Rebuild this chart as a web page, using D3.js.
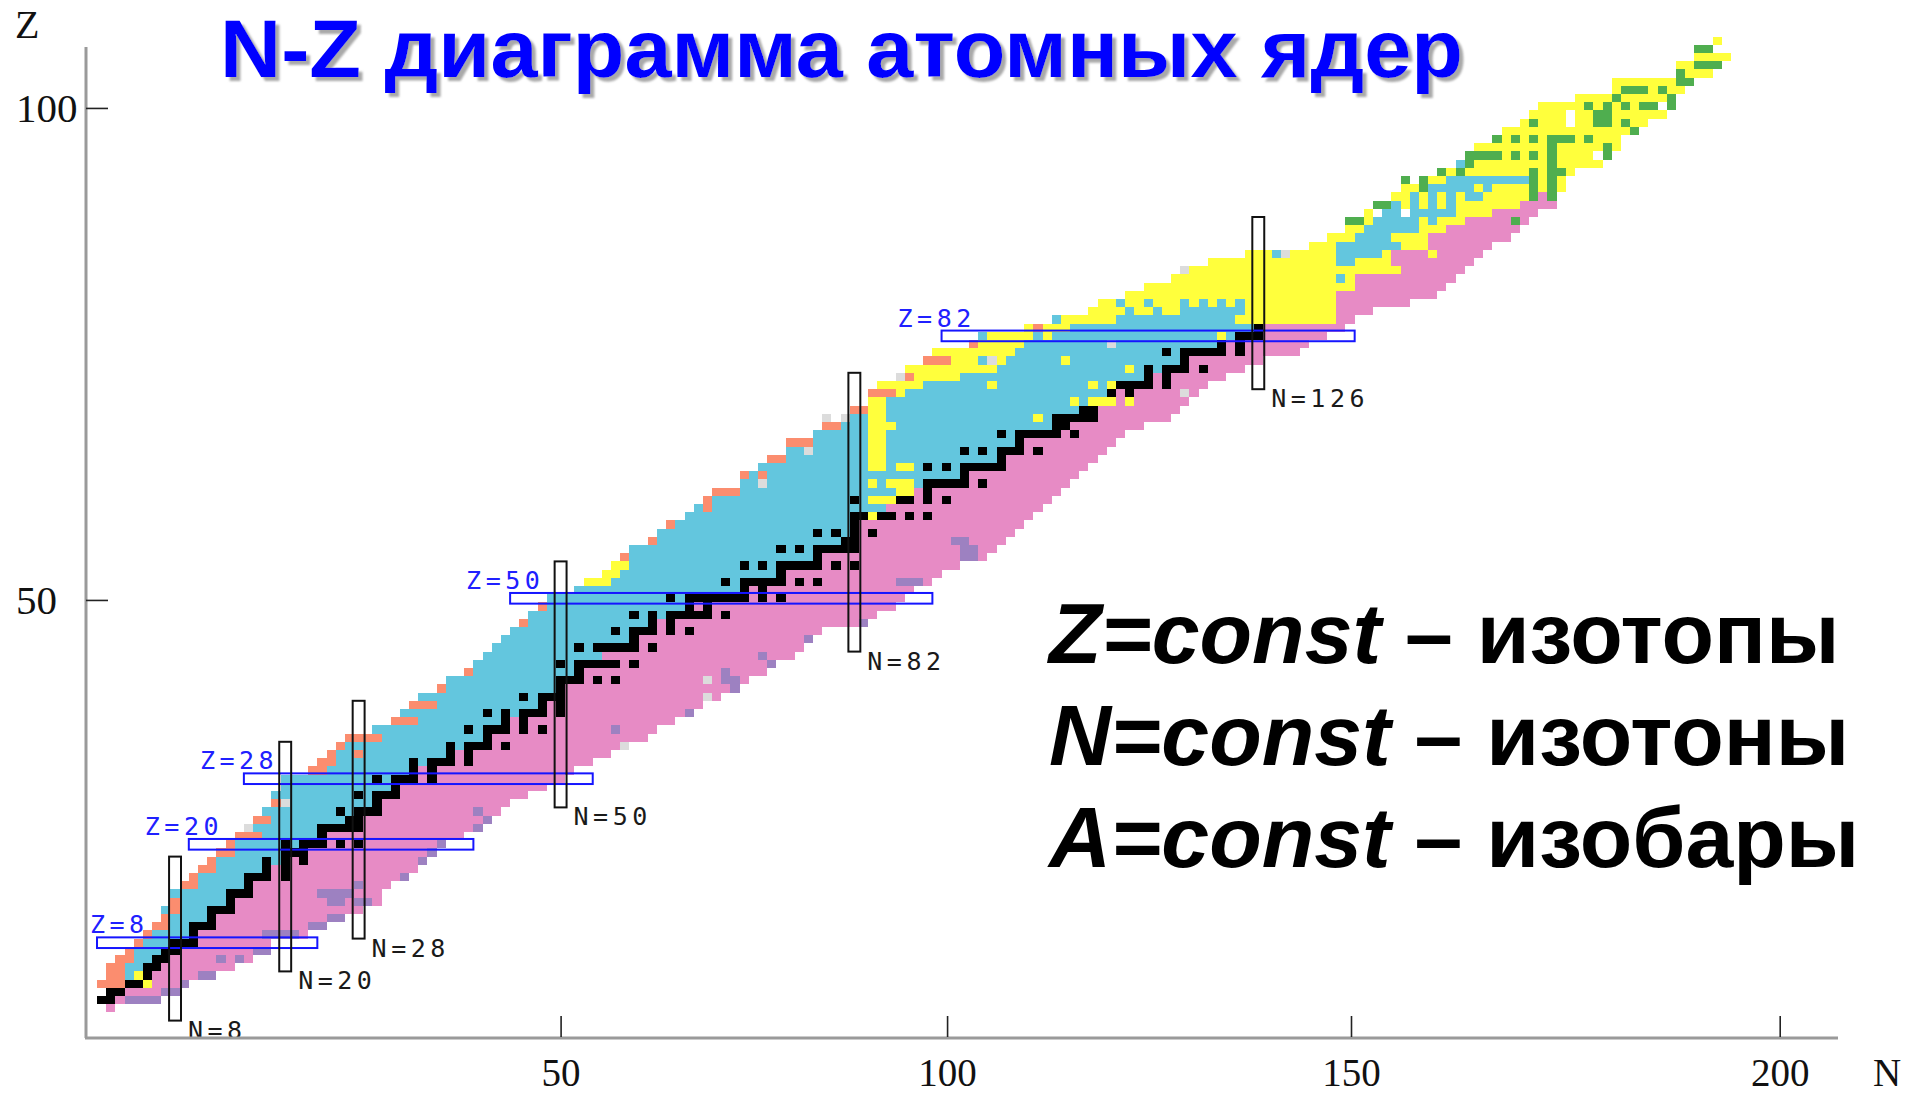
<!DOCTYPE html>
<html>
<head>
<meta charset="utf-8">
<script src="https://cdn.jsdelivr.net/npm/d3@7"></script>
<style>
  body { margin: 0; background: #fff; }
  svg { display: block; }
</style>
</head>
<body>
<svg id="chart" width="1909" height="1097"></svg>
<script>
// ---- data (index = Z, proton number) ----
// first and last known N for every Z
const nFirst = [
  1, 0, 1, 0, 1, 1, 2, 3, 4, 5,
  6, 7, 7, 8, 8, 9, 10, 11, 12, 13,
  14, 15, 16, 17, 18, 19, 19, 20, 20, 23,
  24, 25, 26, 27, 30, 32, 33, 34, 35, 37,
  38, 40, 41, 42, 43, 44, 45, 46, 47, 48,
  49, 52, 53, 55, 56, 57, 58, 60, 61, 62,
  64, 65, 66, 67, 70, 70, 72, 73, 75, 76,
  78, 79, 81, 82, 84, 84, 85, 87, 88, 90,
  91, 95, 96, 101, 104, 108, 109, 112, 114, 117,
  119, 121, 125, 132, 134, 136, 137, 138, 139, 141,
  142, 144, 147, 149, 149, 150, 152, 153, 155, 156,
  157, 161, 165, 165, 172, 172, 174, 174, 176
];
const nLast = [
  1, 6, 8, 9, 12, 14, 16, 17, 18, 22,
  24, 26, 28, 30, 30, 31, 33, 34, 35, 36,
  37, 39, 41, 42, 43, 44, 46, 48, 50, 51,
  53, 55, 57, 59, 60, 62, 64, 65, 67, 69,
  70, 72, 73, 75, 76, 77, 78, 83, 84, 86,
  87, 88, 90, 91, 93, 96, 97, 98, 99, 100,
  101, 102, 103, 104, 105, 106, 107, 108, 109, 110,
  111, 113, 116, 117, 118, 119, 120, 122, 124, 126,
  130, 131, 133, 135, 136, 138, 142, 145, 146, 147,
  148, 149, 150, 151, 153, 154, 155, 156, 158, 158,
  159, 159, 160, 163, 164, 165, 165, 167, 168, 170,
  171, 171, 172, 173, 175, 176, 177, 175, 176
];
// last N of the alpha (yellow) run on the proton-rich side
const alphaEnd = [
  0, -1, 0, -1, 0, 0, 1, 2, 3, 4,
  5, 6, 6, 7, 7, 8, 9, 10, 11, 12,
  13, 14, 15, 16, 17, 18, 18, 19, 19, 22,
  23, 24, 25, 26, 29, 31, 32, 33, 34, 36,
  37, 39, 40, 41, 42, 43, 44, 45, 46, 47,
  48, 51, 55, 56, 57, 56, 57, 59, 60, 61,
  63, 64, 65, 66, 69, 69, 71, 72, 74, 75,
  77, 78, 80, 85, 85, 87, 89, 93, 97, 98,
  99, 100, 101, 105, 110, 117, 134, 134, 136, 136,
  140, 134, 134, 134, 136, 137, 138, 139, 140, 141,
  144, 146, 160, 163, 164, 165, 165, 167, 168, 170,
  171, 171, 172, 173, 175, 176, 177, 175, 176
];
// last N of the beta+/EC (blue) run
const blueEnd = [
  0, 1, 2, 4, 5, 6, 7, 8, 10, 10,
  12, 12, 14, 14, 16, 16, 18, 18, 20, 22,
  24, 24, 28, 28, 30, 30, 32, 32, 34, 34,
  38, 38, 42, 42, 44, 44, 48, 48, 50, 50,
  52, 52, 56, 54, 58, 58, 60, 60, 66, 64,
  70, 70, 74, 74, 78, 78, 82, 82, 82, 82,
  86, 85, 88, 88, 94, 94, 98, 98, 100, 100,
  104, 105, 108, 108, 110, 110, 114, 114, 118, 118,
  122, 122, 126, 126, 123, 124, 134, 134, 136, 136,
  140, 136, 139, 141, 141, 143, 145, 147, 148, 150,
  152, 155, 160, 163, 164, 165, 165, 167, 168, 170,
  171, 171, 172, 173, 175, 176, 177, 175, 176
];
// first N of the beta- (pink) run
const pinkStart = [
  1, 2, 3, 5, 6, 7, 8, 9, 11, 11,
  13, 13, 15, 15, 17, 17, 19, 19, 21, 23,
  25, 25, 29, 29, 31, 31, 33, 33, 35, 35,
  39, 39, 43, 43, 45, 45, 49, 49, 51, 51,
  53, 53, 57, 55, 59, 59, 61, 61, 67, 65,
  71, 71, 75, 75, 79, 79, 83, 83, 83, 83,
  87, 86, 89, 89, 95, 95, 99, 99, 101, 101,
  105, 106, 109, 109, 111, 111, 115, 115, 119, 119,
  123, 123, 127, 127, 135, 135, 135, 135, 137, 137,
  141, 141, 141, 145, 145, 147, 149, 152, 155, 156,
  160, 160, 161, 164, 165, 166, 166, 168, 169, 171,
  172, 172, 173, 174, 176, 177, 178, 176, 177
];
// stable nuclides: N values per Z
const stableN = [
  [], [0, 1], [1, 2], [3, 4], [5], [5, 6], [6, 7], [7, 8], [8, 9, 10], [10],
  [10, 11, 12], [12], [12, 13, 14], [14], [14, 15, 16], [16], [16, 17, 18, 20], [18, 20], [18, 20, 22], [20, 21, 22],
  [20, 22, 23, 24, 26, 28], [24], [24, 25, 26, 27, 28], [27, 28], [26, 28, 29, 30], [30], [28, 30, 31, 32], [32], [30, 32, 33, 34, 36], [34, 36],
  [34, 36, 37, 38, 40], [38, 40], [38, 40, 41, 42, 44], [42], [40, 42, 43, 44, 46, 48], [44, 46], [42, 44, 46, 47, 48, 50], [48, 50], [46, 48, 49, 50], [50],
  [50, 51, 52, 54, 56], [52], [50, 52, 53, 54, 55, 56, 58], [], [52, 54, 55, 56, 57, 58, 60], [58], [56, 58, 59, 60, 62, 64], [60, 62], [58, 60, 62, 63, 64, 65, 66, 68], [64, 66],
  [62, 64, 65, 66, 67, 68, 69, 70, 72, 74], [70, 72], [68, 70, 71, 72, 73, 74, 76, 78], [74], [70, 72, 74, 75, 76, 77, 78, 80, 82], [78], [74, 76, 78, 79, 80, 81, 82], [81, 82], [78, 80, 82, 84], [82],
  [82, 83, 84, 85, 86, 88, 90], [], [82, 85, 86, 87, 88, 90, 92], [88, 90], [88, 90, 91, 92, 93, 94, 96], [94], [90, 92, 94, 95, 96, 97, 98], [98], [94, 96, 98, 99, 100, 102], [100],
  [98, 100, 101, 102, 103, 104, 106], [104, 105], [102, 104, 105, 106, 107, 108], [107, 108], [106, 108, 109, 110, 112], [110, 112], [108, 110, 111, 112, 113, 114, 116], [114, 116], [112, 114, 116, 117, 118, 120], [118],
  [116, 118, 119, 120, 121, 122, 124], [122, 124], [124, 125, 126], [126]
];
// single cells [N, Z]
const protonCells = [
  [0, 3], [1, 3], [2, 3], [1, 4], [2, 4], [1, 5], [2, 5], [2, 6], [3, 6], [3, 7], [4, 8], [5, 9], [6, 10], [7, 10],
  [7, 11], [8, 12], [8, 13], [9, 15], [10, 15], [10, 16], [11, 17], [12, 17], [12, 18], [13, 19], [14, 19], [14, 20],
  [15, 21], [16, 21], [17, 21], [17, 23], [18, 23], [19, 25], [23, 29], [24, 29], [24, 30], [25, 30], [25, 31], [28, 31],
  [26, 32], [27, 33], [28, 33], [29, 33], [30, 33], [32, 35], [33, 35], [34, 35], [34, 37], [35, 37], [36, 37], [37, 39],
  [40, 41], [46, 47], [48, 49], [57, 55], [60, 57], [62, 59], [66, 61], [66, 62], [67, 63], [68, 63], [69, 63], [70, 65],
  [72, 65], [73, 67], [74, 67], [75, 69], [76, 69], [77, 69], [79, 71], [80, 71], [82, 73], [83, 73], [84, 75], [85, 75],
  [86, 75], [87, 77], [88, 77], [90, 79], [91, 79], [92, 79], [95, 81], [102, 83]
];
const neutronCells = [
  [3, 1], [4, 1], [5, 1], [6, 1], [7, 2], [8, 2], [9, 3], [11, 4], [12, 4], [13, 6], [15, 6], [17, 7], [18, 7],
  [18, 9], [19, 9], [20, 9], [21, 9], [23, 10], [24, 10], [25, 11], [26, 11], [25, 13], [26, 13], [28, 13], [29, 13],
  [24, 14], [25, 14], [26, 14], [27, 14], [28, 15], [33, 16], [35, 18], [36, 19], [37, 20], [41, 22], [42, 23], [41, 24],
  [56, 34], [64, 36], [69, 39], [68, 40], [69, 40], [68, 41], [73, 42], [72, 43], [77, 45], [83, 47], [87, 52], [88, 52],
  [89, 52], [94, 55], [95, 55], [94, 56], [95, 56], [93, 57], [94, 57]
];
const unknownCells = [
  [16, 22], [20, 25], [57, 32], [66, 38], [66, 40], [72, 64], [77, 68], [79, 72], [81, 72], [118, 75], [87, 77],
  [97, 79], [110, 81], [118, 90], [129, 92]
];
const emptyCells = [[106, 85], [139, 97], [142, 97], [160, 108], [160, 109], [170, 110], [163, 104]];
const alphaCells = [
  [4, 4], [5, 3], [84, 60], [84, 62], [85, 62], [86, 62], [87, 63], [88, 63], [84, 64], [86, 64], [87, 64], [88, 64],
  [84, 66], [85, 66], [87, 66], [88, 66], [84, 67], [85, 67], [84, 68], [85, 68], [84, 69], [85, 69], [84, 70], [85, 70],
  [84, 71], [85, 71], [86, 71], [84, 72], [85, 72], [102, 72], [84, 73], [85, 73], [106, 74], [108, 74], [109, 74],
  [110, 74], [112, 74], [97, 76], [108, 76], [110, 76], [112, 78], [105, 79], [103, 82], [122, 82],
  [141, 90], [145, 92], [141, 94], [138, 96], [144, 96], [142, 98], [144, 98], [146, 98], [148, 98],
  [142, 99], [144, 99], [146, 99], [148, 99], [150, 100], [152, 100]
];
const ecCells = [
  [96, 79], [96, 82], [104, 84], [112, 85], [115, 85], [111, 86], [114, 86], [118, 86], [120, 86], [122, 86],
  [124, 86], [135, 89], [128, 92], [148, 103]
];
const fissionCells = [
  [136, 96], [137, 96], [154, 96], [139, 98], [140, 98], [156, 99], [158, 99], [144, 100], [156, 100], [158, 100],
  [142, 101], [144, 101], [156, 101], [158, 101], [146, 102], [148, 102], [156, 102], [158, 102], [159, 102],
  [149, 103], [158, 103], [149, 104], [150, 104], [151, 104], [152, 104], [154, 104], [156, 104], [158, 104], [164, 104],
  [158, 105], [164, 105], [152, 106], [154, 106], [156, 106], [158, 106], [159, 106], [160, 106], [162, 106],
  [167, 107], [156, 108], [163, 108], [164, 108], [166, 108], [163, 109], [164, 109], [162, 110], [164, 110], [166, 110],
  [168, 110], [169, 110], [171, 110], [165, 111], [171, 111], [166, 112], [167, 112], [168, 112], [170, 112],
  [172, 113], [173, 113], [172, 114], [174, 115], [175, 115], [176, 115], [174, 117], [175, 117]
];
// magic-number boxes
const magicZ = [8, 20, 28, 50, 82];
const magicZFrom = [0, 10, 16, 45, 92];
const magicZTo = [23, 40, 53, 90, 136];
const magicN = [8, 20, 28, 50, 82, 126];
const magicNFrom = [-1, 5, 9, 25, 44, 76];
const magicNTo = [18, 32, 37, 54, 77, 96];
// axis ticks as they sit on the grid, and their printed labels
const xTickAt = [50, 92.1, 136.1, 182.8];
const xTickText = ["50", "100", "150", "200"];
const yTickAt = [49.8, 109.8];
const yTickText = ["50", "100"];

const textLines = [
  ["Z=const", " \u2013 изотопы"],
  ["N=const", " \u2013 изотоны"],
  ["A=const", " \u2013 изобары"]
];

// ---- drawing ----
const C = {
  blue: "#63c6de", pink: "#e78bc5", yellow: "#ffff3c", black: "#000000",
  orange: "#fb8d6f", purple: "#9d81c1", gray: "#dcdcdc", green: "#4fae4f", white: "#ffffff"
};

const svg = d3.select("#chart");
const xCell = d3.scaleLinear().domain([0, 100]).range([101.6, 1019.6]);
const yCell = d3.scaleLinear().domain([0, 100]).range([1008.3, 188.3]);

const defs = svg.append("defs");
defs.append("filter").attr("id", "shadow")
  .attr("x", "-5%").attr("y", "-20%").attr("width", "110%").attr("height", "140%")
  .append("feDropShadow")
  .attr("dx", 4).attr("dy", 4).attr("stdDeviation", 0.8)
  .attr("flood-color", "#9a9a9a").attr("flood-opacity", 0.85);

const zValues = d3.range(nFirst.length);
const segments = [];
zValues.forEach(z => {
  const f = nFirst[z], l = nLast[z], p = pinkStart[z], a = alphaEnd[z], b = blueEnd[z];
  segments.push({ z, from: f, to: Math.min(a, p - 1, l), color: C.yellow });
  segments.push({ z, from: a + 1, to: Math.min(b, p - 1, l), color: C.blue });
  segments.push({ z, from: b + 1, to: Math.min(p - 1, l), color: C.yellow });
  segments.push({ z, from: Math.max(p, f), to: l, color: C.pink });
});

const cells = svg.append("g").attr("shape-rendering", "crispEdges");

cells.selectAll("rect.seg")
  .data(segments.filter(s => s.from <= s.to))
  .join("rect")
  .attr("class", "seg")
  .attr("x", d => xCell(d.from - 0.5))
  .attr("width", d => xCell(d.to + 0.5) - xCell(d.from - 0.5))
  .attr("y", d => yCell(d.z + 0.5))
  .attr("height", d => yCell(d.z - 0.5) - yCell(d.z + 0.5))
  .attr("fill", d => d.color);

function drawCells(list, color, cls) {
  cells.selectAll("rect." + cls)
    .data(list)
    .join("rect")
    .attr("class", cls)
    .attr("x", d => xCell(d[0] - 0.5))
    .attr("width", xCell(1) - xCell(0))
    .attr("y", d => yCell(d[1] + 0.5))
    .attr("height", yCell(0) - yCell(1))
    .attr("fill", color);
}

const stableCells = stableN.flatMap((list, z) => list.map(n => [n, z]));
drawCells(stableCells, C.black, "stable");
drawCells(protonCells, C.orange, "proton");
drawCells(neutronCells, C.purple, "neutron");
drawCells(unknownCells, C.gray, "unknown");
drawCells(emptyCells, C.white, "empty");
drawCells(alphaCells, C.yellow, "alpha");
drawCells(ecCells, C.blue, "ec");
drawCells(fissionCells, C.green, "fission");

// magic boxes
const boxes = svg.append("g").attr("fill", "none");
boxes.selectAll("rect.hz")
  .data(magicZ)
  .join("rect")
  .attr("class", "hz")
  .attr("x", (d, i) => xCell(magicZFrom[i] - 0.5))
  .attr("width", (d, i) => xCell(magicZTo[i] + 0.5) - xCell(magicZFrom[i] - 0.5))
  .attr("y", d => yCell(d + 0.65))
  .attr("height", d => yCell(d - 0.65) - yCell(d + 0.65))
  .attr("stroke", "#1515ff")
  .attr("stroke-width", 2);

boxes.selectAll("rect.vn")
  .data(magicN)
  .join("rect")
  .attr("class", "vn")
  .attr("x", d => xCell(d - 0.65))
  .attr("width", d => xCell(d + 0.65) - xCell(d - 0.65))
  .attr("y", (d, i) => yCell(magicNTo[i] + 0.5))
  .attr("height", (d, i) => yCell(magicNFrom[i] - 0.5) - yCell(magicNTo[i] + 0.5))
  .attr("stroke", "#111")
  .attr("stroke-width", 2);

const labelFont = "'DejaVu Sans Mono', monospace";
svg.append("g").selectAll("text")
  .data(magicZ)
  .join("text")
  .attr("x", (d, i) => Math.max(xCell(magicZFrom[i] - 0.5) - 44, 90))
  .attr("y", d => yCell(d + 0.65) - 4)
  .attr("font-family", labelFont)
  .attr("font-size", 25)
  .attr("letter-spacing", 4.5)
  .attr("fill", "#2020ff")
  .text(d => "Z=" + d);

svg.append("g").selectAll("text")
  .data(magicN)
  .join("text")
  .attr("x", d => xCell(d + 0.65) + 7)
  .attr("y", (d, i) => yCell(magicNFrom[i] - 0.5) + 18)
  .attr("font-family", labelFont)
  .attr("font-size", 25)
  .attr("letter-spacing", 4.5)
  .attr("fill", "#1a1a1a")
  .text(d => "N=" + d);

// axes
const serif = "'Liberation Serif', 'Times New Roman', serif";
svg.append("line")
  .attr("x1", 86).attr("x2", 86).attr("y1", 47).attr("y2", 1038)
  .attr("stroke", "#9a9a9a").attr("stroke-width", 3);
svg.append("line")
  .attr("x1", 85).attr("x2", 1838).attr("y1", 1038).attr("y2", 1038)
  .attr("stroke", "#9a9a9a").attr("stroke-width", 3);

const xAxis = d3.axisBottom(xCell)
  .tickValues(xTickAt)
  .tickFormat((d, i) => xTickText[i])
  .tickSizeInner(-21).tickSizeOuter(0).tickPadding(21);
const gx = svg.append("g").attr("transform", "translate(0,1037)").call(xAxis);
gx.select(".domain").remove();
gx.selectAll(".tick line").attr("stroke", "#222").attr("stroke-width", 1.6);
gx.selectAll(".tick text").attr("font-family", serif).attr("font-size", 39).attr("fill", "#111");

const yAxis = d3.axisLeft(yCell)
  .tickValues(yTickAt)
  .tickFormat((d, i) => yTickText[i])
  .tickSizeInner(-22).tickSizeOuter(0);
const gy = svg.append("g").attr("transform", "translate(86,0)").call(yAxis);
gy.select(".domain").remove();
gy.selectAll(".tick line").attr("stroke", "#222").attr("stroke-width", 1.6);
gy.selectAll(".tick text")
  .attr("x", -70).attr("text-anchor", "start")
  .attr("font-family", serif).attr("font-size", 41).attr("fill", "#111");

svg.append("text").attr("x", 15).attr("y", 38)
  .attr("font-family", serif).attr("font-size", 40).attr("fill", "#111").text("Z");
svg.append("text").attr("x", 1873).attr("y", 1086)
  .attr("font-family", serif).attr("font-size", 39).attr("fill", "#111").text("N");

// title with drop shadow
svg.append("text")
  .attr("x", 220).attr("y", 77)
  .attr("font-family", "'Liberation Sans', Arial, sans-serif")
  .attr("font-weight", "bold").attr("font-size", 82)
  .attr("textLength", 1243).attr("lengthAdjust", "spacingAndGlyphs")
  .attr("fill", "#0000ff")
  .attr("filter", "url(#shadow)")
  .text("N-Z диаграмма атомных ядер");

// right-hand legend text
const legend = svg.append("g")
  .attr("font-family", "'Liberation Sans', Arial, sans-serif")
  .attr("font-weight", "bold").attr("font-size", 86).attr("fill", "#000");
textLines.forEach((parts, i) => {
  const t = legend.append("text").attr("x", 1049).attr("y", 663 + i * 102);
  t.append("tspan").attr("font-style", "italic").text(parts[0]);
  t.append("tspan").text(parts[1]);
});
</script>
</body>
</html>
